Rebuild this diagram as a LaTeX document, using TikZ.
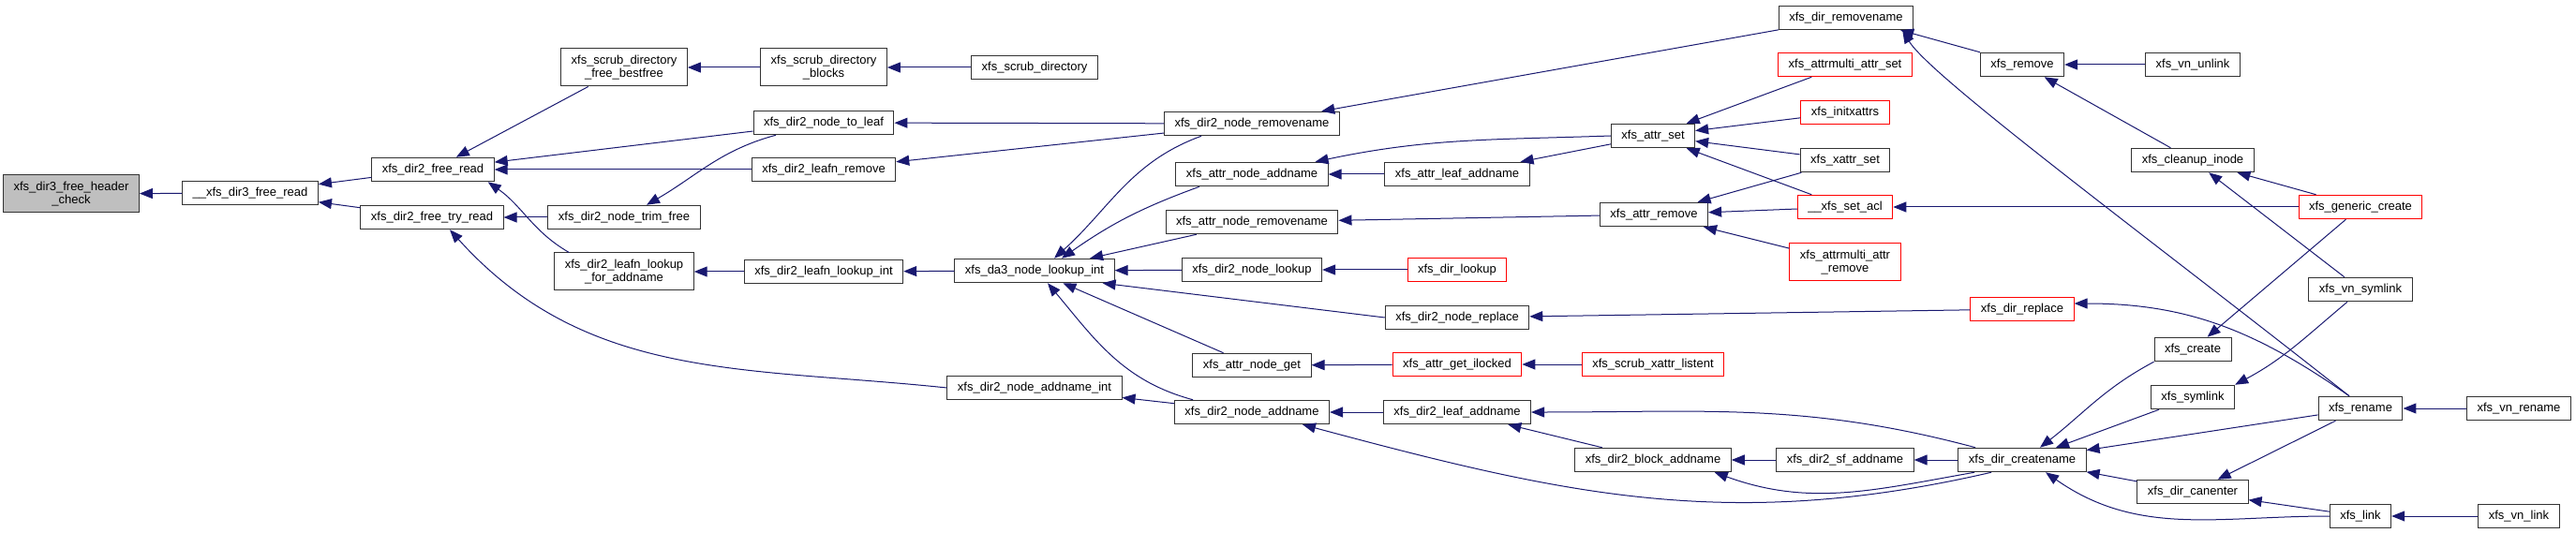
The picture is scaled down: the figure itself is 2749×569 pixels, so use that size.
\documentclass[tikz,border=0pt]{standalone}
\usepackage{fontspec}
\setmainfont{Liberation Sans}
\usetikzlibrary{arrows.meta}
\definecolor{edgeblue}{HTML}{191970}
\definecolor{rootgray}{HTML}{BFBFBF}

\begin{document}
\begin{tikzpicture}[
    x=1pt, y=-1pt,
    fn/.style={draw=black!80, fill=white, line width=1pt, inner xsep=11pt,
               minimum height=25.5pt, font=\fontsize{13}{13.5}\selectfont},
    fn2/.style={fn, align=center, minimum height=40pt},
    cut/.style={draw=red},
    call/.style={draw=edgeblue, line width=1pt,
                 -{Triangle[length=14pt,width=11pt]}}
]
\useasboundingbox (0,0) rectangle (2749,569);

\node[fn2, fill=rootgray] (hdr) at (76,207) {xfs\_dir3\_free\_header\\\_check};
\node[fn] (dfr) at (267,206) {\_\_xfs\_dir3\_free\_read};
\node[fn] (fread) at (462,181) {xfs\_dir2\_free\_read};
\node[fn] (ftry) at (461,232) {xfs\_dir2\_free\_try\_read};
\node[fn2] (sbest) at (666,72) {xfs\_scrub\_directory\\\_free\_bestfree};
\node[fn] (trim) at (666,232) {xfs\_dir2\_node\_trim\_free};
\node[fn2] (lfa) at (666,290) {xfs\_dir2\_leafn\_lookup\\\_for\_addname};
\node[fn2] (sblk) at (879,72) {xfs\_scrub\_directory\\\_blocks};
\node[fn] (n2l) at (879,131) {xfs\_dir2\_node\_to\_leaf};
\node[fn] (lrm) at (879,181) {xfs\_dir2\_leafn\_remove};
\node[fn] (lli) at (879,290) {xfs\_dir2\_leafn\_lookup\_int};
\node[fn] (sdir) at (1104,72) {xfs\_scrub\_directory};
\node[fn] (da3) at (1104,289) {xfs\_da3\_node\_lookup\_int};
\node[fn] (naint) at (1104,414) {xfs\_dir2\_node\_addname\_int};
\node[fn] (nrm) at (1336,132) {xfs\_dir2\_node\_removename};
\node[fn] (anadd) at (1336,186) {xfs\_attr\_node\_addname};
\node[fn] (anrm) at (1336,237) {xfs\_attr\_node\_removename};
\node[fn] (nlook) at (1336,288) {xfs\_dir2\_node\_lookup};
\node[fn] (aget) at (1336,390) {xfs\_attr\_node\_get};
\node[fn] (nadd) at (1336,440) {xfs\_dir2\_node\_addname};
\node[fn] (aleaf) at (1555,186) {xfs\_attr\_leaf\_addname};
\node[fn, cut] (dlook) at (1555,288) {xfs\_dir\_lookup};
\node[fn] (nrep) at (1555,339) {xfs\_dir2\_node\_replace};
\node[fn, cut] (agil) at (1555,389) {xfs\_attr\_get\_ilocked};
\node[fn] (ladd) at (1555,440) {xfs\_dir2\_leaf\_addname};
\node[fn] (aset) at (1764,145) {xfs\_attr\_set};
\node[fn] (arm) at (1765,229) {xfs\_attr\_remove};
\node[fn, cut] (sxl) at (1764,389) {xfs\_scrub\_xattr\_listent};
\node[fn] (badd) at (1764,491) {xfs\_dir2\_block\_addname};
\node[fn] (drm) at (1970,19) {xfs\_dir\_removename};
\node[fn, cut] (mset) at (1969,69) {xfs\_attrmulti\_attr\_set};
\node[fn, cut] (initx) at (1969,120) {xfs\_initxattrs};
\node[fn] (xset) at (1969,171) {xfs\_xattr\_set};
\node[fn, cut] (sacl) at (1969,221) {\_\_xfs\_set\_acl};
\node[fn2, cut] (mrm) at (1969,280) {xfs\_attrmulti\_attr\\\_remove};
\node[fn] (sfadd) at (1969,491) {xfs\_dir2\_sf\_addname};
\node[fn] (rmv) at (2158,69) {xfs\_remove};
\node[fn, cut] (drep) at (2158,330) {xfs\_dir\_replace};
\node[fn] (dcr) at (2158,491) {xfs\_dir\_createname};
\node[fn] (vunl) at (2340,69) {xfs\_vn\_unlink};
\node[fn] (clean) at (2340,171) {xfs\_cleanup\_inode};
\node[fn] (crt) at (2340,373) {xfs\_create};
\node[fn] (sym) at (2340,424) {xfs\_symlink};
\node[fn] (can) at (2340,525) {xfs\_dir\_canenter};
\node[fn, cut] (gcr) at (2519,221) {xfs\_generic\_create};
\node[fn] (vsym) at (2519,309) {xfs\_vn\_symlink};
\node[fn] (ren) at (2519,436) {xfs\_rename};
\node[fn] (lnk) at (2519,551) {xfs\_link};
\node[fn] (vren) at (2688,436) {xfs\_vn\_rename};
\node[fn] (vlnk) at (2688,551) {xfs\_vn\_link};

\draw[call] (dfr) -- (hdr);
\draw[call] (fread) -- (dfr);
\draw[call] (ftry) -- (dfr);
\draw[call] (sbest) -- (fread);
\draw[call] (n2l) -- (fread);
\draw[call] (lrm) -- (fread);
\draw[call] ([xshift=16pt]lfa.north west) to[out=150,in=-35] ([xshift=-7pt]fread.south east);
\draw[call] (trim) -- (ftry);
\draw[call] (naint.west) to[out=174,in=-48] ([xshift=19pt]ftry.south);
\draw[call] (sblk) -- (sbest);
\draw[call] (sdir) -- (sblk);
\draw[call] ([xshift=-51pt]n2l.south) to[out=195,in=30] ([xshift=24pt]trim.north);
\draw[call] (nrm) -- (n2l);
\draw[call] (nrm) -- (lrm);
\draw[call] (lli) -- (lfa);
\draw[call] (da3) -- (lli);
\draw[call] ([xshift=-54pt]nrm.south) to[out=200,in=42] ([xshift=21pt]da3.north);
\draw[call] ([xshift=-56pt]anadd.south) to[out=200,in=35] ([xshift=29pt]da3.north);
\draw[call] (anrm) -- (da3);
\draw[call] (nlook) -- (da3);
\draw[call] (nrep.west) -- ([xshift=-13pt]da3.south east);
\draw[call] (aget) -- (da3);
\draw[call] ([xshift=-63pt]nadd.north) to[out=165,in=-50] ([xshift=14pt]da3.south);
\draw[call] (nadd) -- (naint);
\draw[call] (drm) -- (nrm);
\draw[call] (aset.west) to[out=182,in=12] ([xshift=-14pt]anadd.north east);
\draw[call] (aleaf) -- (anadd);
\draw[call] (aset) -- (aleaf);
\draw[call] (arm) -- (anrm);
\draw[call] (dlook) -- (nlook);
\draw[call] (drep) -- (nrep);
\draw[call] (agil) -- (aget);
\draw[call] (sxl) -- (agil);
\draw[call] (ladd) -- (nadd);
\draw[call] ([xshift=-33pt]dcr.south) to[out=193,in=-15] ([xshift=54pt]nadd.south);
\draw[call] ([xshift=-50pt]dcr.north) to[out=165,in=0] (ladd.east);
\draw[call] (badd) -- (ladd);
\draw[call] (sfadd) -- (badd);
\draw[call] (dcr) -- (sfadd);
\draw[call] ([xshift=-51pt]dcr.south) to[out=190,in=-20] ([xshift=-18pt]badd.south east);
\draw[call] (mset) -- (aset);
\draw[call] (initx) -- (aset);
\draw[call] (xset) -- (aset);
\draw[call] (sacl) -- (aset);
\draw[call] (xset) -- (arm);
\draw[call] (sacl) -- (arm);
\draw[call] (mrm) -- (arm);
\draw[call] (gcr) -- (sacl);
\draw[call] (rmv.north west) -- ([xshift=-14pt]drm.south east);
\draw[call] ([xshift=-12pt]ren.north) .. controls +(-205,-162) and +(30,50) .. ([xshift=-12pt]drm.south east);
\draw[call] (vunl) -- (rmv);
\draw[call] (clean) -- (rmv);
\draw[call] (gcr) -- (clean);
\draw[call] (vsym) -- (clean);
\draw[call] (gcr) -- (crt);
\draw[call] ([xshift=-12pt]ren.north) to[out=145,in=0] ([yshift=6pt]drep.east);
\draw[call] ([xshift=-14pt]vsym.south) to[out=220,in=28] (sym.north east);
\draw[call] (crt.south west) to[out=208,in=38] ([xshift=19pt]dcr.north);
\draw[call] (sym) -- (dcr);
\draw[call] (ren) -- (dcr);
\draw[call] (can) -- (dcr);
\draw[call] (lnk.west) to[out=180,in=-35] ([xshift=25pt]dcr.south);
\draw[call] (ren) -- (can);
\draw[call] (lnk) -- (can);
\draw[call] (vren) -- (ren);
\draw[call] (vlnk) -- (lnk);
\end{tikzpicture}
\end{document}
